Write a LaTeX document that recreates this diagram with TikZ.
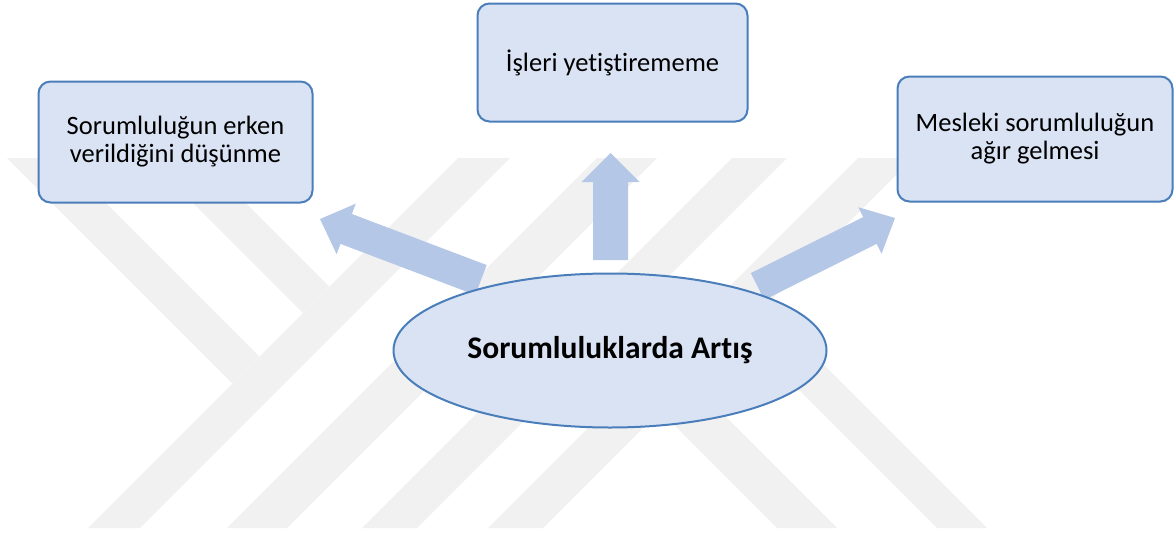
\documentclass[tikz,border=0pt]{standalone}
\usepackage{fontspec}
\setmainfont{Carlito}[Ligatures={NoCommon,NoContextual},RawFeature={-liga;-clig;-dlig}]
\usetikzlibrary{shapes.geometric,calc,backgrounds}

\definecolor{boxfill}{RGB}{218,227,243}
\definecolor{boxline}{RGB}{74,126,187}
\definecolor{arrowfill}{RGB}{180,199,231}
\definecolor{wmgray}{RGB}{241,241,241}

% Block arrow from a tail point to a tip point:
% #1 tail, #2 tip, #3 shaft half-width, #4 head half-width, #5 head length
\newcommand\blockarrow[5]{%
  \coordinate (ba-base) at ($(#2)!#5!(#1)$);
  \fill[arrowbody]
    ($(#1)!#3!-90:(#2)$) -- ($(ba-base)!#3!-90:(#2)$) --
    ($(ba-base)!#4!-90:(#2)$) -- (#2) --
    ($(ba-base)!#4!90:(#2)$) -- ($(ba-base)!#3!90:(#2)$) --
    ($(#1)!#3!90:(#2)$) -- cycle;
}

\begin{document}
\begin{tikzpicture}[x=1pt,y=-1pt,
  box/.style={draw=boxline, line width=2pt, fill=boxfill,
    rounded corners=12pt, align=center, inner sep=0pt,
    font=\fontsize{26.5}{28}\selectfont},
  hub/.style={ellipse, draw=boxline, line width=2pt, fill=boxfill,
    inner sep=0pt, font=\bfseries\fontsize{31.5}{33}\selectfont},
  arrowbody/.style={fill=arrowfill},
  wmband/.style={fill=wmgray}]
\useasboundingbox (0,0) rectangle (1174,533);

% central topic and the three outcomes
\node[box, minimum width=274pt, minimum height=121pt] (early) at (175.5,142)
  {Sorumluluğun erken\\verildiğini düşünme};
\node[box, minimum width=270pt, minimum height=118pt] (behind) at (612.5,62.5)
  {İşleri yetiştirememe};
\node[box, minimum width=275pt, minimum height=125pt] (heavy) at (1035,139)
  {Mesleki sorumluluğun\\ağır gelmesi};
\node[hub, minimum width=433pt, minimum height=154pt] (hub) at (610,350.5)
  {Sorumluluklarda Artış};

% arrow end points
\coordinate (la-tail) at (481,280);
\coordinate (la-tip)  at (320,219);
\coordinate (ua-tail) at (610.5,260);
\coordinate (ua-tip)  at (610.5,153);
\coordinate (ra-tail) at (757.5,286.5);
\coordinate (ra-tip)  at (895,218);

\begin{pgfonlayer}{background}
  % faint striped emblem behind the diagram
  \fill[wmband] (7,158) -- (61,158) -- (259.5,356.5) -- (232.5,383.5) -- cycle;
  \fill[wmband] (148,158) -- (201,158) -- (329.5,286.5) -- (303,313) -- cycle;
  \fill[wmband] (88,528) -- (140,528) -- (510,158) -- (458,158) -- cycle;
  \fill[wmband] (227,528) -- (287,528) -- (657,158) -- (597,158) -- cycle;
  \fill[wmband] (362,528) -- (417,528) -- (787,158) -- (732,158) -- cycle;
  \fill[wmband] (488,528) -- (543,528) -- (913,158) -- (858,158) -- cycle;
  \fill[wmband] (632.5,383.5) -- (662.5,353.5) -- (837,528) -- (777,528) -- cycle;
  \fill[wmband] (712.5,303.5) -- (737.5,278.5) -- (987,528) -- (937,528) -- cycle;

  % block arrows from the centre towards the outcomes
  \blockarrow{la-tail}{la-tip}{16pt}{27pt}{28pt}
  \blockarrow{ua-tail}{ua-tip}{17.5pt}{29pt}{29pt}
  \blockarrow{ra-tail}{ra-tip}{15pt}{26pt}{28pt}
\end{pgfonlayer}
\end{tikzpicture}
\end{document}
